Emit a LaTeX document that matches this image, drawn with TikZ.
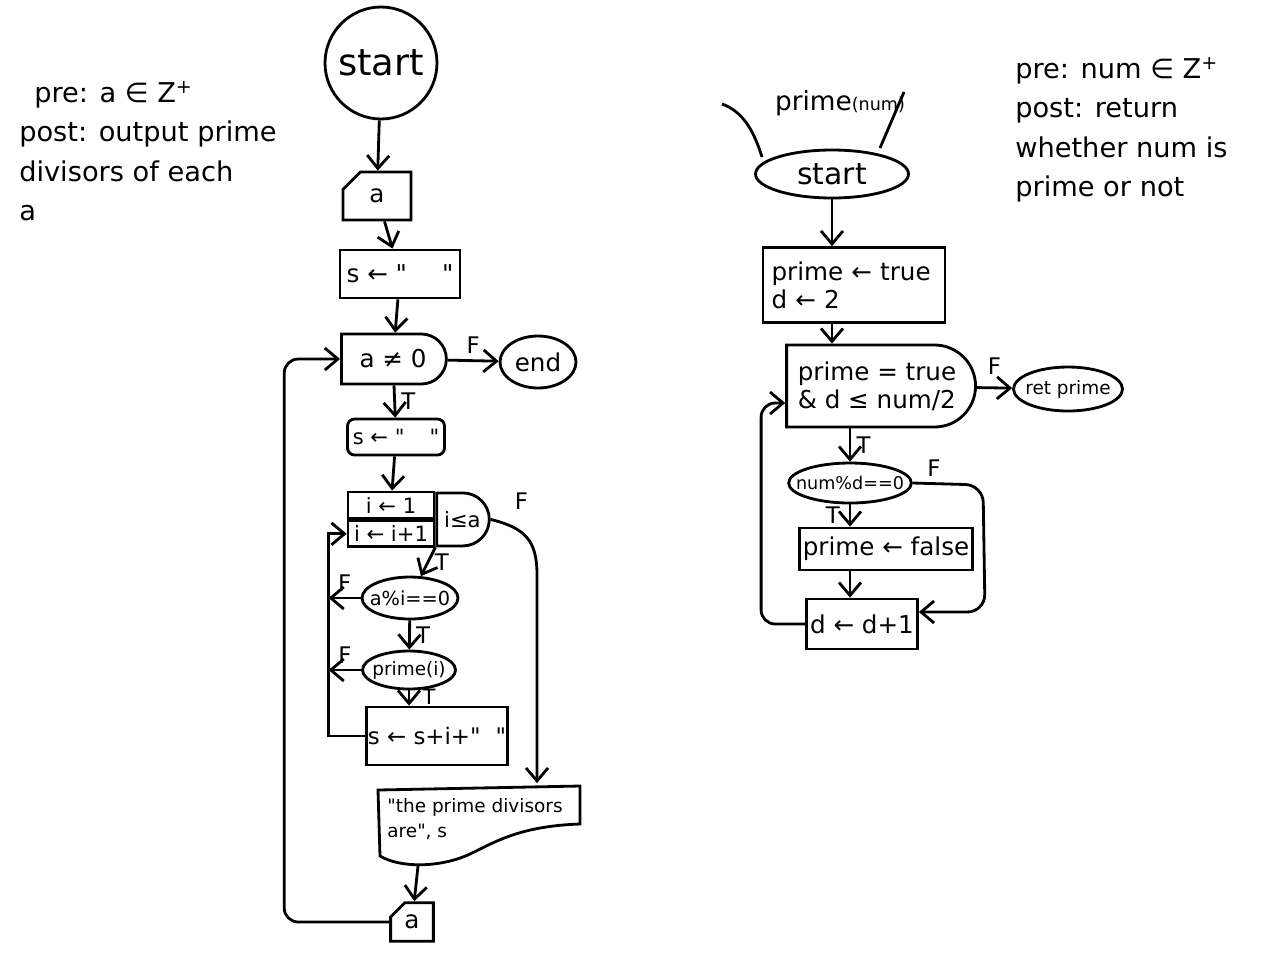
\documentclass[tikz,border=0pt]{standalone}
\usepackage{fontspec}
\setmainfont{DejaVu Sans}[Ligatures=TeXOff]
\usetikzlibrary{arrows.meta, positioning, shapes.geometric, shapes.misc, calc}

\begin{document}
\begin{tikzpicture}[
    x=0.02cm, y=-0.02cm,
    line width=1.6pt,
    every node/.style={font=\fontsize{14}{16}\selectfont},
    proc/.style={draw, inner sep=2pt},
    term/.style={draw, ellipse, inner sep=-6pt},
    decide/.style={draw, rounded rectangle, rounded rectangle left arc=none, inner sep=2pt},
    inout/.style={draw, chamfered rectangle, chamfered rectangle corners=north west, chamfered rectangle xsep=0.22cm},
    arr/.style={-{Straight Barb[length=2.6mm, width=4.4mm]}},
    lbl/.style={font=\fontsize{13}{15}\selectfont, inner sep=3pt},
    note/.style={align=left, anchor=north west, font=\fontsize{15.5}{22.5}\selectfont}]
  \useasboundingbox (0,0) rectangle (1280,978);

  % notes
  \node[note] (noteL) at (12,74) {\hspace{0.3cm}pre: a ∈ Z\textsuperscript{+}\\post: output prime\\divisors of each\\a};
  \node[note] (noteR) at (1008,50) {pre: num ∈ Z\textsuperscript{+}\\post: return\\whether num is\\prime or not};

  % left chart
  \node[draw, circle, minimum size=2.24cm, inner sep=0pt, font=\fontsize{21}{23}\selectfont] (startL) at (381,63) {start};
  \node[inout, minimum width=1.36cm, minimum height=0.96cm] (inA) at (377,196) {a};
  \node[proc, minimum width=2.4cm, minimum height=0.96cm] (sInit) at (400,274) {s ← "\hspace{0.7cm}"};
  \node[decide, minimum width=2.24cm, minimum height=1cm] (whileA) at (393,359) {a ≠ 0};
  \node[term, minimum width=1.52cm, minimum height=1.04cm] (endL) at (538,362) {end};
  \node[proc, rounded corners=4pt, minimum width=1.94cm, minimum height=0.72cm, font=\fontsize{12}{14}\selectfont] (sReset) at (396,437) {s ← "\hspace{0.5cm}"};
  \node[proc, minimum width=1.72cm, minimum height=0.52cm, inner sep=1pt, font=\fontsize{12}{14}\selectfont] (loopInit) at (391,505) {i ← 1};
  \node[proc, minimum width=1.72cm, minimum height=0.52cm, inner sep=1pt, font=\fontsize{12}{14}\selectfont, below=0pt of loopInit] (loopStep) {i ← i+1};
  \node[decide, minimum width=1.12cm, minimum height=1.06cm, inner sep=1pt, anchor=west, font=\fontsize{12}{14}\selectfont] (loopCond) at (loopInit.south east) {i≤a};
  \coordinate (loopBack) at ($(loopStep.west)+(-18,0)$);
  \node[term, minimum width=1.92cm, minimum height=0.84cm, font=\fontsize{11}{13}\selectfont] (modTest) at (410,598) {a\%i==0};
  \node[term, minimum width=1.86cm, minimum height=0.76cm, font=\fontsize{10.5}{12}\selectfont] (primeTest) at (409,670) {prime(i)};
  \node[proc, minimum width=2.78cm, minimum height=1.16cm, inner sep=1pt, font=\fontsize{13}{15}\selectfont] (sAppend) at (437,736) {s ← s+i+"\hspace{0.3cm}"};
  \node[minimum width=4.04cm, minimum height=1.66cm] (outMsg) at (479,826) {};
  \draw (378,790) -- (580,786) -- (580,824) .. controls (520,826) and (495,842) .. (470,854)
    .. controls (440,868) and (400,868) .. (380,856) -- cycle;
  \node[anchor=north west, align=left, inner sep=0pt, font=\fontsize{10.5}{14}\selectfont] (outTxt) at (386,797) {"the prime divisors\\are", s};
  \node[inout, minimum width=0.8cm, minimum height=0.72cm, chamfered rectangle xsep=0.16cm] (outA) at (412,922) {a};
  \coordinate (msgFoot) at (418,866);

  \draw[arr] (startL) -- (inA);
  \draw[arr] (inA) -- (sInit);
  \draw[arr] (sInit) -- (whileA);
  \draw[arr] (whileA) -- node[lbl, above] {F} (endL);
  \draw[arr] (whileA) -- node[lbl, right] {T} (sReset);
  \draw[arr] (sReset) -- (loopInit);
  \draw[arr] (loopCond.south west) -- node[lbl, right] {T} (modTest);
  \draw[arr] (modTest) -- node[lbl, right] {T} (primeTest);
  \draw[arr] (primeTest.south) -- node[lbl, right=4pt, pos=0.45, font=\fontsize{12}{14}\selectfont] {T} (primeTest.south |- sAppend.north);
  \draw[arr] (modTest.west) -- node[lbl, above] {F} (modTest.west -| loopBack);
  \draw[arr] (primeTest.west) -- node[lbl, above] {F} (primeTest.west -| loopBack);
  \draw[arr] (sAppend.west) -| (loopBack) -- (loopStep.west);
  \draw[arr] (loopCond.east) node[lbl, above right=2pt and 10pt] {F}
    .. controls (525,528) and (537,540) .. (537,575) -- ($(outMsg.north)+(58,0)$);
  \draw[arr] (msgFoot) -- (outA);
  \draw[arr, rounded corners=8pt] (outA.west) -- ++(-105,0) |- (whileA.west);

  % right chart
  \node[font=\fontsize{15}{17}\selectfont] (fnName) at (840,103) {prime{\fontsize{10}{12}\selectfont(num)}};
  \draw (722,104) .. controls (745,112) and (755,135) .. (762,157);
  \draw (904,92) -- (880,148);
  \node[term, minimum width=3.06cm, minimum height=0.96cm, font=\fontsize{17}{19}\selectfont] (startR) at (832,174) {start};
  \node[proc, minimum width=3.64cm, minimum height=1.5cm, align=left, text width=3.3cm] (initR) at (854,285) {prime ← true\\d ← 2};
  \node[decide, minimum width=3.92cm, minimum height=1.64cm, align=left] (whileR) at (877,386) {prime = true\\\& d ≤ num/2};
  \node[term, minimum width=2.18cm, minimum height=0.88cm, font=\fontsize{10.5}{12}\selectfont] (retR) at (1068,389) {ret prime};
  \node[term, minimum width=2.32cm, minimum height=0.8cm, font=\fontsize{10}{12}\selectfont] (modR) at (850,483) {num\%d==0};
  \node[proc, minimum width=3.36cm, minimum height=0.84cm] (falseR) at (886,549) {prime ← false};
  \node[proc, minimum width=2.22cm, minimum height=1cm] (incR) at (862,624) {d ← d+1};

  \draw[arr] (startR.south) -- (startR.south |- initR.north);
  \draw[arr] (startR.south |- initR.south) -- (startR.south |- whileR.north);
  \draw[arr] (whileR) -- node[lbl, above=4pt] {F} (retR);
  \draw[arr] (modR.north |- whileR.south) -- node[lbl, right] {T} (modR);
  \draw[arr] (modR) -- node[lbl, left=2pt] {T} (modR |- falseR.north);
  \draw[arr] (modR.south |- falseR.south) -- (modR.south |- incR.north);
  \draw[arr, rounded corners=10pt] (modR.east) -- node[lbl, above, pos=0.3] {F} (983,485) -- (985,612) -- ($(incR.east)+(0,-12)$);
  \draw[arr, rounded corners=8pt] (incR.west) -- ++(-44,0) |- ($(whileR.west)+(0,17)$);
\end{tikzpicture}
\end{document}
